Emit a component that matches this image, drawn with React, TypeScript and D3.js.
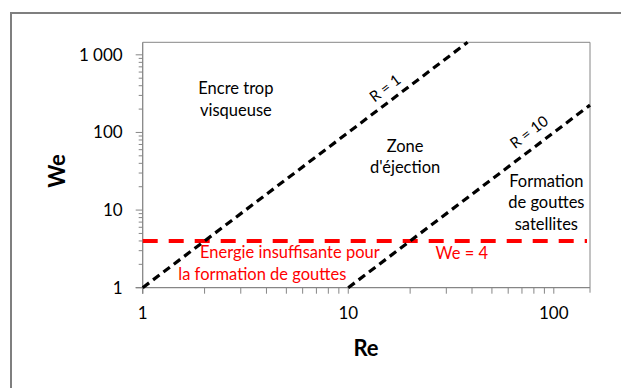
import React from 'react';
import * as d3 from 'd3';

// axes
const reDomain = [1, 150];
const weDomain = [1, 1450];
const xTicks = [1, 10, 100];
const xTickLabels = ['1', '10', '100'];
const yTicks = [1, 10, 100, 1000];
const yTickLabels = ['1', '10', '100', '1 000'];

// boundaries: We = (Re / R)^2
const ratios = [1, 10];
const ratioLabels = ['R = 1', 'R = 10'];
const weThreshold = 4;
const thresholdLabel = 'We = 4';

// region labels
const viscousLines = ['Encre trop', 'visqueuse'];
const ejectionLines = ['Zone', "d'éjection"];
const satelliteLines = ['Formation', 'de gouttes', 'satellites'];
const lowEnergyLines = ['Energie insuffisante pour', 'la formation de gouttes'];

const W = 621;
const H = 388;
const margin = { top: 42.3, right: 31, bottom: 100.3, left: 142.7 };
const FONT = 'Lato, "Open Sans", sans-serif';
const AXIS = '#868686';

const App: React.FC = () => {
  const x = d3.scaleLog().domain(reDomain).range([margin.left, W - margin.right]);
  const y = d3.scaleLog().domain(weDomain).range([H - margin.bottom, margin.top]);
  const [x0, x1] = x.range();
  const [y0, y1] = y.range();

  // minor ticks 2..9 for each decade inside the domain
  const minorX: number[] = [];
  const minorY: number[] = [];
  for (let d = 1; d <= 100; d *= 10) {
    for (let k = 2; k <= 9; k++) {
      if (d * k <= reDomain[1]) minorX.push(d * k);
    }
  }
  for (let d = 1; d <= 1000; d *= 10) {
    for (let k = 2; k <= 9; k++) {
      if (d * k <= weDomain[1]) minorY.push(d * k);
    }
  }

  // R lines clipped to the plot box
  const rLine = (r: number) => {
    const reStart = Math.max(reDomain[0], r * Math.sqrt(weDomain[0]));
    const reEnd = Math.min(reDomain[1], r * Math.sqrt(weDomain[1]));
    return [
      [reStart, (reStart / r) ** 2],
      [reEnd, (reEnd / r) ** 2],
    ];
  };
  const angle = (Math.atan2(y(100) - y(1), x(10) - x(1)) * 180) / Math.PI;

  // label anchor on each R line (Re value), plus offset above the line
  const ratioAnchorsRe = [16.5, 84];
  const ratioOffsets = [-8, -10];

  const lh = 21.7;

  return (
    <svg width={W} height={H} style={{ position: 'absolute', left: 0, top: 0 }} fontFamily={FONT}>
      <rect x={0} y={0} width={W} height={H} fill="#fff" />
      <rect x={11} y={13} width={W + 20} height={H + 20} fill="none" stroke="#7f7f7f" strokeWidth={2} />

      {/* plot frame */}
      <line x1={x0} x2={x1} y1={y1} y2={y1} stroke={AXIS} strokeWidth={1} />
      <line x1={x1} x2={x1} y1={y1} y2={y0 + 5} stroke={AXIS} strokeWidth={1} />

      {/* x axis */}
      <line x1={x0 - 7} x2={x1} y1={y0} y2={y0} stroke={AXIS} strokeWidth={1.3} />
      {minorX.concat(xTicks).map((t, i) => (
        <line key={'xt' + i} x1={x(t)} x2={x(t)} y1={y0} y2={y0 + 6} stroke={AXIS} strokeWidth={1} />
      ))}
      {xTicks.map((t, i) => (
        <text key={'xl' + i} x={x(t)} y={y0 + 31} textAnchor="middle" fontSize={17} fill="#000">
          {xTickLabels[i]}
        </text>
      ))}

      {/* y axis */}
      <line x1={x0} x2={x0} y1={y1} y2={y0 + 6} stroke={AXIS} strokeWidth={1.3} />
      {minorY.map((t, i) => (
        <line key={'ym' + i} x1={x0 - 4} x2={x0} y1={y(t)} y2={y(t)} stroke={AXIS} strokeWidth={1} />
      ))}
      {yTicks.map((t, i) => (
        <line key={'yt' + i} x1={x0 - 7} x2={x0} y1={y(t)} y2={y(t)} stroke={AXIS} strokeWidth={1} />
      ))}
      {yTicks.map((t, i) => (
        <text key={'yl' + i} x={x0 - 20} y={y(t) + 6} textAnchor="end" fontSize={17} fill="#000">
          {yTickLabels[i]}
        </text>
      ))}

      {/* axis titles */}
      <text x={366} y={356} textAnchor="middle" fontSize={22} fontWeight="bold" fill="#000">
        Re
      </text>
      <text
        transform={`translate(65,${(y0 + y1) / 2 + 6}) rotate(-90)`}
        textAnchor="middle"
        fontSize={22}
        fontWeight="bold"
        fill="#000"
      >
        We
      </text>

      {/* threshold We = 4 */}
      <line
        x1={x0}
        x2={x1 - 3}
        y1={y(weThreshold)}
        y2={y(weThreshold)}
        stroke="#ff0000"
        strokeWidth={4}
        strokeDasharray="15,11"
      />

      {/* R lines */}
      {ratios.map((r) => {
        const pts = rLine(r);
        return (
          <line
            key={'r' + r}
            x1={x(pts[0][0])}
            y1={y(pts[0][1])}
            x2={x(pts[1][0])}
            y2={y(pts[1][1])}
            stroke="#000"
            strokeWidth={3.2}
            strokeDasharray="8,5"
          />
        );
      })}
      {ratios.map((r, i) => {
        const re = ratioAnchorsRe[i];
        const we = (re / r) ** 2;
        return (
          <text
            key={'rl' + r}
            transform={`translate(${x(re)},${y(we)}) rotate(${angle})`}
            y={ratioOffsets[i]}
            textAnchor="middle"
            fontSize={15}
            fill="#000"
          >
            {ratioLabels[i]}
          </text>
        );
      })}

      {/* region labels */}
      {viscousLines.map((s, i) => (
        <text key={'v' + i} x={x(2.84)} y={y(313) + i * lh} textAnchor="middle" fontSize={16.5} fill="#000">
          {s}
        </text>
      ))}
      {ejectionLines.map((s, i) => (
        <text key={'e' + i} x={x(18.9)} y={y(56.6) + i * lh} textAnchor="middle" fontSize={16.5} fill="#000">
          {s}
        </text>
      ))}
      {satelliteLines.map((s, i) => (
        <text key={'s' + i} x={x(92)} y={y(20) + i * lh} textAnchor="middle" fontSize={16.5} fill="#000">
          {s}
        </text>
      ))}
      <text x={x(1.9)} y={y(2.39)} fontSize={16.5} fill="#ff0000">
        {lowEnergyLines[0]}
      </text>
      <text x={x(1.49)} y={y(1.26)} fontSize={16.5} fill="#ff0000">
        {lowEnergyLines[1]}
      </text>
      <text x={x(35.7)} y={y(2.32)} textAnchor="middle" fontSize={16.5} fill="#ff0000">
        {thresholdLabel}
      </text>
    </svg>
  );
};

export default App;
